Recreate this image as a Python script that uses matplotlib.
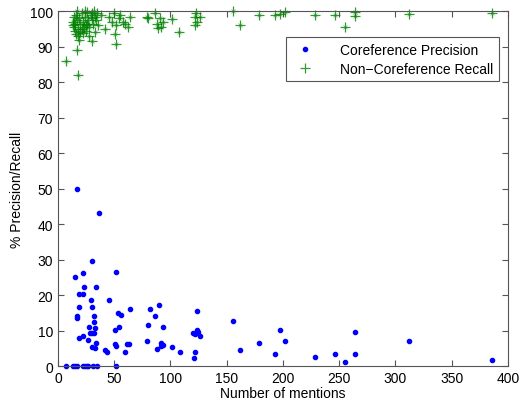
import matplotlib
matplotlib.use('Agg')
import matplotlib.pyplot as plt

plt.rcParams['font.family'] = ['Liberation Sans', 'DejaVu Sans']

# Coreference precision (blue dots)
prec_x = [7, 13.6, 15.1, 16.6, 22.5, 24, 25.5, 27, 31.4, 34.4, 52,
          30.5, 15.4, 21.9, 51.6, 23.1, 34.1, 18.9, 21.9, 29.6, 45.3,
          18.4, 30.2, 64, 81.8, 90, 123.3, 53.3, 56.3, 86.5, 17.2, 16.6,
          32, 32, 79.7, 32.6, 27.6, 54, 93.6, 50.7, 28.2, 30.2, 31.7,
          21.9, 18.4, 26.4, 33.8, 30.2, 33.2, 50.4, 51.6, 61, 62.8, 59.8,
          42, 43.6, 78.8, 91.8, 93, 91.8, 88.3, 101, 108.4, 120.3, 122,
          123.3, 124.4, 126.2, 122, 121.2, 16.6, 36.7,
          155.6, 162, 178.4, 193.2, 197.6, 201.5, 228.4, 246.5, 254.8,
          264, 264, 312, 385.8]
prec_y = [0, 0, 0, 0, 0, 0, 0, 0, 0, 0, 0,
          29.5, 25.1, 26.3, 26.6, 22.2, 22.2, 20.2, 20.2, 18.5, 18.5,
          16.6, 16.6, 16.1, 16.1, 17.2, 15.5, 15, 14.4, 14.2, 14.2, 13.5,
          14.2, 12.5, 11.7, 10.8, 11.1, 11.1, 11.1, 10.2, 9.3, 9.3, 9.3,
          8.5, 8.0, 7.3, 6.5, 5.4, 5.0, 6.2, 5.6, 6.2, 6.2, 4.0,
          4.4, 3.9, 7.1, 6.5, 5.9, 5.6, 4.7, 5.4, 3.9, 9.3, 9.1,
          10.1, 9.5, 8.6, 4.0, 2.3, 49.9, 43,
          12.6, 4.4, 6.4, 3.5, 10.2, 7.1, 2.5, 3.5, 1.1,
          9.6, 3.5, 7.1, 1.7]

# Non-coreference recall (green stars)
rec_x = [7, 17.5, 16.6, 30, 51.6, 51, 42, 32.6, 19, 20, 14, 16,
         13, 14, 15, 16, 17, 18, 19, 20, 21, 22, 23, 24, 25, 26, 27, 28,
         29, 30, 31, 32, 33, 34, 35, 36, 38, 15, 18, 22, 25, 28, 13, 17,
         24, 30, 26, 21,
         45, 48, 50, 52, 54, 55, 58, 60, 62, 64,
         79, 80, 86, 88, 89, 91, 93, 92, 101, 108,
         122, 123, 122, 124, 126,
         155.6, 162, 178.4, 193.2, 197.3, 201.5, 228.4, 246.5, 254.8,
         264, 264, 312, 385.8]
rec_y = [86, 82, 89, 91.6, 90.7, 93.7, 95, 94, 92, 94, 95.5, 93.5,
         97, 98.5, 96.5, 99, 97.5, 95, 98, 96.5, 99.5, 97, 95.5, 98.5, 96,
         99.8, 97.5, 95.5, 99, 98, 96.5, 100, 98.5, 97.5, 99.5, 96, 99,
         94.5, 93, 93.8, 94.5, 93, 96, 100, 100, 99.5, 96.5, 95,
         98.5, 97, 99.5, 96, 98, 99, 97, 96.5, 95.5, 98.5,
         98.5, 98, 99.5, 96.5, 95.2, 98, 97, 95.5, 97.8, 94,
         98.5, 99.5, 96, 97, 98.3,
         100, 96, 99, 99, 99.3, 99.7, 99, 99, 95.5,
         99.7, 98.6, 99.2, 99.6]

fig = plt.figure(figsize=(5.22, 4.06), dpi=100)
ax = fig.add_axes([0.111, 0.096, 0.862, 0.874])

ax.plot(prec_x, prec_y, '.', color='#0000ff', markersize=6, clip_on=False,
        label='Coreference Precision')
# matlab-like asterisk: a plus with faint diagonals
ax.plot(rec_x, rec_y, linestyle='none', marker='x', color='#008000',
        markersize=3.5, markeredgewidth=0.6, alpha=0.45, clip_on=False)
ax.plot(rec_x, rec_y, linestyle='none', marker='+', color='#008000',
        markersize=6.5, markeredgewidth=0.9, alpha=0.8, clip_on=False,
        label='Non\u2212Coreference Recall')

ax.set_xlim(0, 400)
ax.set_ylim(0, 100)
ax.set_xticks(range(0, 401, 50))
ax.set_yticks(range(0, 101, 10))
ax.tick_params(direction='in', top=True, right=True, labelsize=10,
               length=4, color='#555555')
for s in ax.spines.values():
    s.set_color('#555555')
ax.set_xlabel('Number of mentions', fontsize=10, labelpad=1)
ax.set_ylabel('% Precision/Recall', fontsize=10, labelpad=4)

leg = ax.legend(loc='upper right', bbox_to_anchor=(0.98, 0.927),
                borderaxespad=0, fontsize=10, fancybox=False, framealpha=1,
                edgecolor='#555555', handletextpad=1.5, borderpad=0.4,
                labelspacing=0.35)
leg.get_frame().set_linewidth(0.8)

fig.savefig('out.png', dpi=100)
